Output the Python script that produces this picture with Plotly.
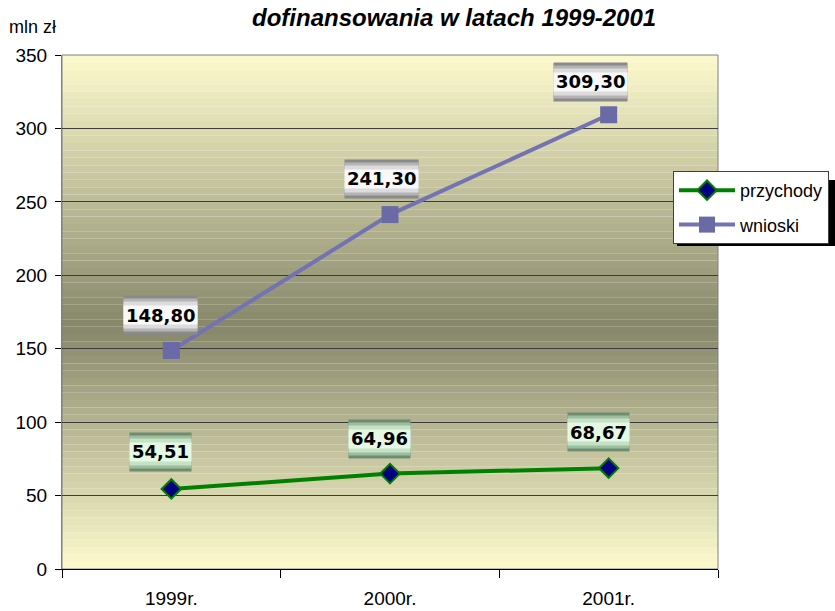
import plotly.graph_objects as go

categories = ["1999r.", "2000r.", "2001r."]
przychody = [54.51, 64.96, 68.67]
wnioski = [148.80, 241.30, 309.30]
przychody_labels = ["54,51", "64,96", "68,67"]
wnioski_labels = ["148,80", "241,30", "309,30"]
y_ticks = [0, 50, 100, 150, 200, 250, 300, 350]

FONT = "Liberation Sans, Arial, sans-serif"
LBL_FONT = "DejaVu Sans, Verdana, sans-serif"

W, H = 835, 611

fig = go.Figure()

fig.add_trace(go.Scatter(
    x=categories, y=przychody, name="przychody", mode="lines+markers",
    line=dict(color="#008000", width=4),
    marker=dict(symbol="diamond", size=15, color="#000080",
                line=dict(color="#008000", width=2)),
    legendgroup="a",
))
fig.add_trace(go.Scatter(
    x=categories, y=wnioski, name="wnioski", mode="lines+markers",
    line=dict(color="#7373b3", width=4),
    marker=dict(symbol="square", size=17, color="#6a6aa6",
                line=dict(color="#6a6aa6", width=0)),
    legendgroup="b",
))

# plot area in screen pixels
PL, PR, PT, PB = 62, 718, 55, 569
PW, PH = PR - PL, PB - PT

def px(xs):
    return (xs - PL) / PW

def py(ys):
    return (PB - ys) / PH

# background gradient (style only)
shapes = []
top_c = (253, 251, 205)
mid_c = (134, 134, 106)
center = 165.0
n = 70
for i in range(n):
    v0 = 350 * i / n
    v1 = 350 * (i + 1) / n
    vm = (v0 + v1) / 2
    if vm >= center:
        f = (vm - center) / (350 - center)
    else:
        f = (center - vm) / center
    f = min(max(f, 0), 1)
    c = tuple(int(round(m + (t - m) * f)) for m, t in zip(mid_c, top_c))
    shapes.append(dict(type="rect", xref="paper", yref="y", x0=0, x1=1,
                       y0=v0, y1=v1, fillcolor="rgb(%d,%d,%d)" % c,
                       line=dict(width=0), layer="below"))
shapes.append(dict(type="rect", xref="paper", yref="paper", x0=0, x1=1,
                   y0=0, y1=1, line=dict(color="#808080", width=1),
                   fillcolor="rgba(0,0,0,0)", layer="below"))

annotations = []

def label(xc, yv, text, xs, ys, colors):
    heights = [34, 28, 22, 14]
    for h, col in zip(heights, colors):
        annotations.append(dict(
            x=xc, y=yv, xref="x", yref="y", text="<b>%s</b>" % text,
            showarrow=False, xshift=xs, yshift=ys, height=h, borderpad=2,
            bgcolor=col, font=dict(family=LBL_FONT, size=18, color="rgba(0,0,0,0)"),
        ))
    annotations.append(dict(
        x=xc, y=yv, xref="x", yref="y", text="<b>%s</b>" % text,
        showarrow=False, xshift=xs, yshift=ys, borderpad=2,
        font=dict(family=LBL_FONT, size=18, color="#000000"),
    ))

gray = ["#8a8a8a", "#b4b4b4", "#dcdcdc", "#f8f8f8"]
green = ["#6e8c6e", "#9ebc9e", "#c4e2c4", "#e4f8e4"]
w_off = [(-11, 35), (-9, 36), (-18, 33)]
p_off = [(-11, 37), (-11, 35), (-10, 36)]
for c, v, t, (xs, ys) in zip(categories, wnioski, wnioski_labels, w_off):
    label(c, v, t, xs, ys, gray)
for c, v, t, (xs, ys) in zip(categories, przychody, przychody_labels, p_off):
    label(c, v, t, xs, ys, green)

annotations.append(dict(
    text="<b><i>dofinansowania w latach 1999-2001</i></b>",
    xref="paper", yref="paper", x=px(454), y=py(17), showarrow=False,
    font=dict(family=FONT, size=24, color="#000000"), xanchor="center", yanchor="middle",
))
annotations.append(dict(
    text="mln zł", xref="paper", yref="paper", x=px(7), y=py(27),
    showarrow=False, xanchor="left", yanchor="middle",
    font=dict(family="Liberation Sans Narrow, " + FONT, size=18, color="#000000"),
))

# legend shadow
shapes.append(dict(type="rect", xref="paper", yref="paper",
                   x0=px(677), x1=px(860),
                   y0=py(246), y1=py(180),
                   fillcolor="#000000", line=dict(width=0), layer="above"))

fig.update_layout(
    width=W, height=H,
    margin=dict(l=PL, r=W - PR, t=PT, b=H - PB, autoexpand=False),
    paper_bgcolor="#ffffff", plot_bgcolor="rgba(0,0,0,0)",
    font=dict(family=FONT, size=19, color="#000000"),
    showlegend=True,
    legend=dict(x=px(673), y=py(171), xanchor="left", yanchor="top",
                bgcolor="#ffffff", bordercolor="#404040", borderwidth=1,
                font=dict(family=FONT, size=18, color="#000000"),
                itemwidth=56, tracegroupgap=8, entrywidth=110),
    shapes=shapes, annotations=annotations,
    xaxis=dict(type="category", tickson="boundaries", ticks="outside", ticklen=8,
               tickcolor="#000000", showline=True, linecolor="#000000", linewidth=1,
               showgrid=False, range=[-0.5, 2.5], ticklabelstandoff=12,
               tickfont=dict(size=19), automargin=False),
    yaxis=dict(range=[0, 350], tickvals=y_ticks, ticks="outside", ticklen=6,
               tickcolor="#000000", showline=True, linecolor="#808080", linewidth=1,
               showgrid=True, gridcolor="#3c3c3c", gridwidth=1, zeroline=False,
               tickfont=dict(size=19), ticklabelstandoff=4, automargin=False),
)

fig.write_html("out.html", config={"displayModeBar": False},
               post_script="document.body.style.margin='0';document.body.style.overflow='hidden';")
